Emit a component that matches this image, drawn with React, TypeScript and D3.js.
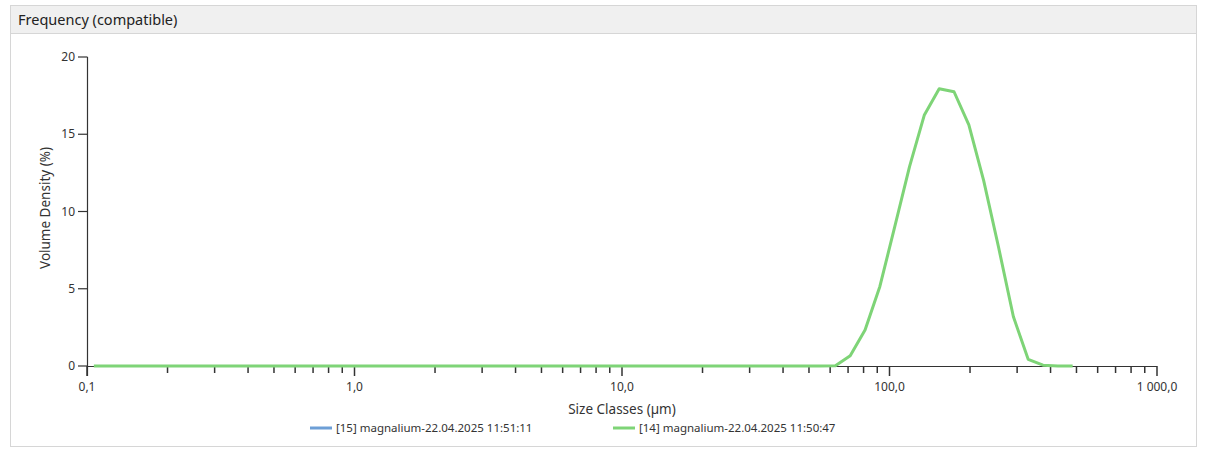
import { useMemo } from 'react'
import { scaleLog, scaleLinear, line } from 'd3'

// Mastersizer-style size classes: log-spaced bins, 0.01–3500 µm, 100 classes.
// Points are plotted at bin centres; only classes 18..84 are shown.
const CLASS_INDEX: number[] = Array.from({ length: 67 }, (_, i) => 18 + i)

// Volume density (%), classes 68..84; everything before is zero.
const PEAK_VALUES: number[] = [
  0.02, 0.67, 2.33, 5.15, 9.0, 12.9, 16.25, 17.95, 17.75, 15.6, 12.0, 7.7, 3.2, 0.43, 0.05, 0.0, 0.0,
]
const ZERO_COUNT = 50

const SERIES_14: number[] = [...Array(ZERO_COUNT).fill(0), ...PEAK_VALUES]

const X_TICKS = [0.1, 1, 10, 100, 1000]
const X_TICK_LABELS = ['0,1', '1,0', '10,0', '100,0', '1 000,0']
const Y_TICKS = [0, 5, 10, 15, 20]

const LEGEND = [
  { label: '[15] magnalium-22.04.2025 11:51:11', color: '#6d9fd6' },
  { label: '[14] magnalium-22.04.2025 11:50:47', color: '#7ed477' },
]

const W = 1207
const H = 450
const FONT = '"Noto Sans", "Open Sans", sans-serif'

const binCentre = (k: number) => Math.pow(10, -2 + (k + 0.5) * (Math.log10(350000) / 100))

export default function App() {
  const { x, y } = useMemo(
    () => ({
      x: scaleLog().domain([0.1, 1000]).range([87, 1157]),
      y: scaleLinear().domain([0, 20]).range([366, 57]),
    }),
    []
  )

  const minor: number[] = []
  for (let d = 0.1; d < 1000; d *= 10) {
    for (let m = 2; m <= 9; m++) minor.push(+(d * m).toPrecision(3))
  }

  const pts = CLASS_INDEX.map((k, i) => [binCentre(k), SERIES_14[i]] as [number, number])
  const path = line<[number, number]>()
    .x((d) => x(d[0]))
    .y((d) => y(d[1]))(pts)

  return (
    <div style={{ position: 'absolute', left: 0, top: 0 }}>
      <svg width={W} height={H} style={{ display: 'block', fontFamily: FONT }}>
        <rect x={0} y={0} width={W} height={H} fill="#fff" />
        <rect x={10.5} y={5.5} width={1186} height={441} fill="#fff" stroke="#d6d6d6" />
        <rect x={11} y={6} width={1185} height={27} fill="#f0f0f0" />
        <line x1={11} x2={1196} y1={33.5} y2={33.5} stroke="#d6d6d6" />
        <text x={18} y={25} fontSize={14.5} fill="#222">
          Frequency (compatible)
        </text>

        {/* y axis */}
        <line x1={87.5} x2={87.5} y1={y(20)} y2={376} stroke="#333" strokeWidth={1.2} />
        {Y_TICKS.map((t) => (
          <g key={t}>
            <line x1={78} x2={87.5} y1={y(t)} y2={y(t)} stroke="#333" strokeWidth={1.2} />
            <text x={75} y={y(t) + 4} fontSize={12} textAnchor="end" fill="#333">
              {t}
            </text>
          </g>
        ))}
        <text
          x={50}
          y={208}
          fontSize={13.5}
          textAnchor="middle"
          fill="#333"
          transform="rotate(-90 50 208)"
        >
          Volume Density (%)
        </text>

        {/* x axis */}
        <line x1={87} x2={x(1000)} y1={366.5} y2={366.5} stroke="#333" strokeWidth={1.2} />
        {minor.map((t) => (
          <line key={t} x1={x(t)} x2={x(t)} y1={367} y2={373} stroke="#333" strokeWidth={1.5} />
        ))}
        {X_TICKS.map((t, i) => (
          <g key={t}>
            <line x1={x(t)} x2={x(t)} y1={366} y2={376} stroke="#333" strokeWidth={1.5} />
            <text x={x(t)} y={391} fontSize={12} textAnchor="middle" fill="#333">
              {X_TICK_LABELS[i]}
            </text>
          </g>
        ))}
        <text x={622} y={414} fontSize={13.5} textAnchor="middle" fill="#333">
          Size Classes (µm)
        </text>

        {/* data */}
        <path d={path ?? ''} fill="none" stroke={LEGEND[1].color} strokeWidth={3} strokeLinejoin="round" />

        {/* legend */}
        {LEGEND.map((l, i) => {
          const lx = i === 0 ? 310 : 613
          return (
            <g key={l.label}>
              <line x1={lx} x2={lx + 22} y1={428} y2={428} stroke={l.color} strokeWidth={3} />
              <text x={lx + 26} y={432} fontSize={11.5} fill="#333">
                {l.label}
              </text>
            </g>
          )
        })}
      </svg>
    </div>
  )
}
